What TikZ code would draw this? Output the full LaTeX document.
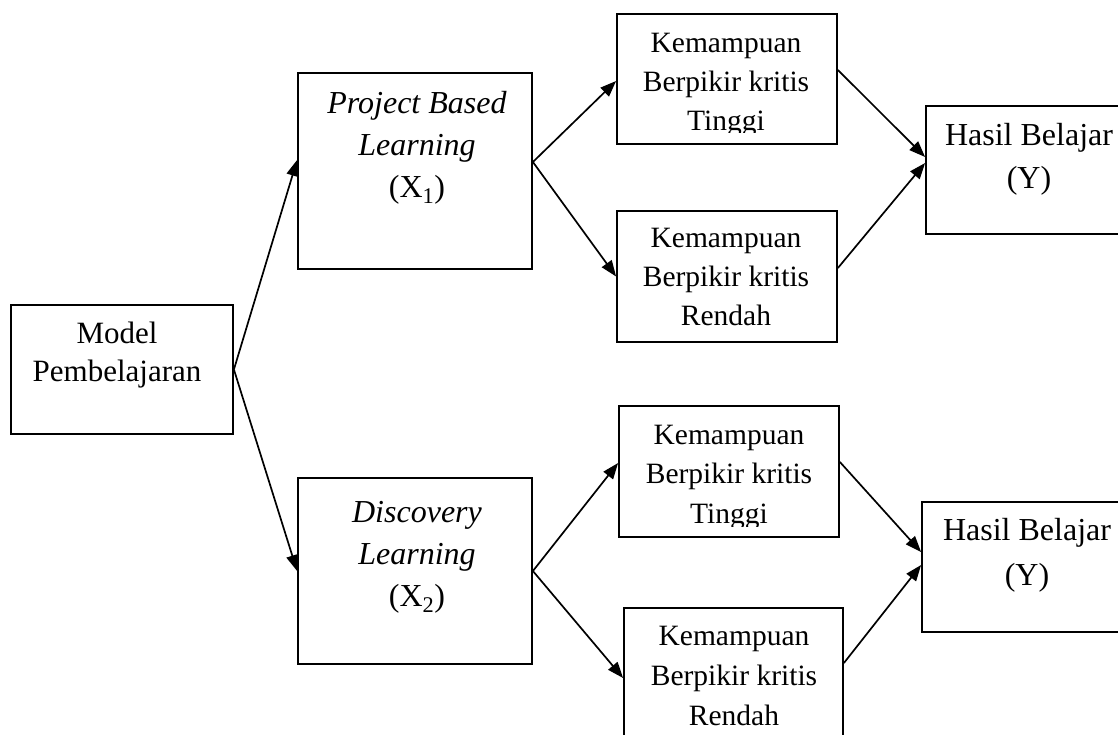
\documentclass[tikz,border=0pt]{standalone}
\usepackage{fontspec}
\setmainfont{Liberation Serif}
\usetikzlibrary{arrows.meta}
\begin{document}
\begin{tikzpicture}[x=1pt,y=-1pt,
  box/.style n args={2}{draw, line width=1.8pt, inner sep=0pt, minimum width=#1pt, minimum height=#2pt},
  txt/.style={anchor=north, align=center, inner sep=0pt},
  arr/.style={line width=1.7pt, -{Triangle[length=16pt,width=12pt]}}
]
\clip (0,0) rectangle (1118,735);
\fill[white] (0,0) rectangle (1118,735);
% boxes
\node[box={222}{129}] (model) at (122,369.5) {};
\node[box={234}{196}] (pbl) at (415,171) {};
\node[box={234}{186}] (disc) at (415,571) {};
\node[box={220}{130}] (t1) at (727,79) {};
\node[box={220}{131}] (r1) at (727,276.5) {};
\node[box={204}{128}] (h1) at (1028,170) {};
\node[box={220}{131}] (t2) at (729,471.5) {};
\node[box={219}{132}] (r2) at (733.5,674) {};
\node[box={208}{130}] (h2) at (1026,567) {};
% texts
\node[txt, font=\fontsize{31}{38}\selectfont] (modeltxt) at (117,316.4) {\strut Model\\Pembelajaran};
\node[txt, font=\fontsize{32}{42}\selectfont] (pbltxt) at (417,83.6) {\strut\textit{Project Based}\\\textit{Learning}\\(X\textsubscript{1})};
\node[txt, font=\fontsize{32}{42}\selectfont] (disctxt) at (417,492.6) {\strut\textit{Discovery}\\\textit{Learning}\\(X\textsubscript{2})};
\begin{scope}
\clip (600,0) rectangle (860,133);
\node[txt, font=\fontsize{29.5}{39}\selectfont] (t1txt) at (726,24.7) {\strut Kemampuan\\Berpikir kritis\\Tinggi};
\end{scope}
\node[txt, font=\fontsize{29.5}{39}\selectfont] (r1txt) at (726,219.7) {\strut Kemampuan\\Berpikir kritis\\Rendah};
\begin{scope}
\clip (600,380) rectangle (860,526);
\node[txt, font=\fontsize{29.5}{39.5}\selectfont] (t2txt) at (729,416.4) {\strut Kemampuan\\Berpikir kritis\\Tinggi};
\end{scope}
\node[txt, font=\fontsize{29.5}{40}\selectfont] (r2txt) at (734,617) {\strut Kemampuan\\Berpikir kritis\\Rendah};
\node[txt, font=\fontsize{32}{43}\selectfont] (h1txt) at (1029,114.9) {\strut Hasil Belajar\\(Y)};
\node[txt, font=\fontsize{32}{45}\selectfont] (h2txt) at (1027,508.5) {\strut Hasil Belajar\\(Y)};
% arrows
\draw[arr] (model.east) -- ([yshift=11pt]pbl.west);
\draw[arr] (model.east) -- (disc.west);
\draw[arr] ([yshift=9pt]pbl.east) -- ([yshift=-2pt]t1.west);
\draw[arr] ([yshift=9pt]pbl.east) -- (r1.west);
\draw[arr] (disc.east) -- ([yshift=8.5pt]t2.west);
\draw[arr] (disc.east) -- ([yshift=-4pt]r2.west);
\draw[arr] ([yshift=9pt]t1.east) -- ([yshift=13pt]h1.west);
\draw[arr] ([yshift=8.5pt]r1.east) -- ([yshift=7pt]h1.west);
\draw[arr] ([yshift=9.5pt]t2.east) -- ([yshift=15pt]h2.west);
\draw[arr] ([yshift=11pt]r2.east) -- ([yshift=2pt]h2.west);
\end{tikzpicture}
\end{document}
